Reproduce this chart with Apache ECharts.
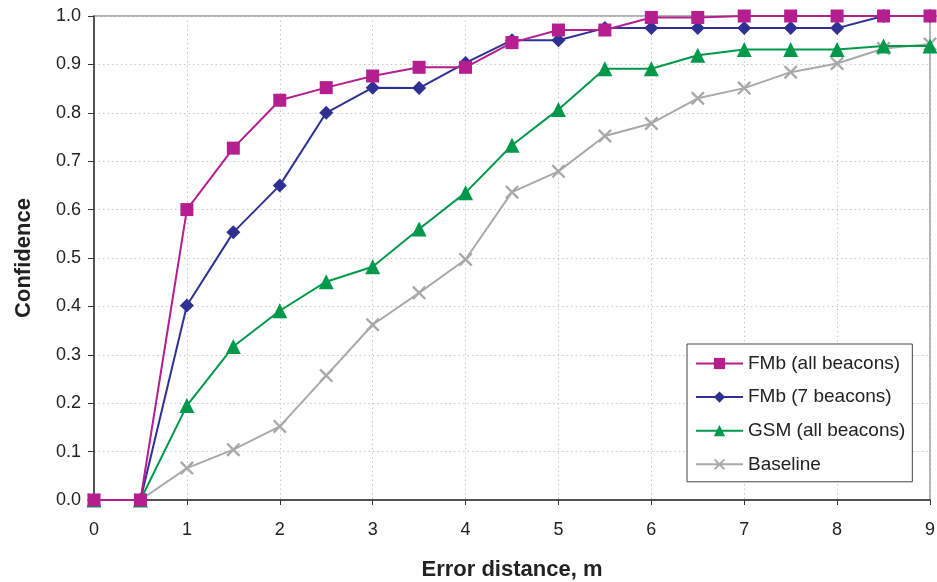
<!DOCTYPE html>
<html><head><meta charset="utf-8">
<script src="https://cdn.jsdelivr.net/npm/echarts@6/dist/echarts.min.js"></script>
<style>html,body{margin:0;padding:0;background:#fff}#c{width:937px;height:582px}</style>
</head><body><div id="c"></div>
<script>
const xs = [0,0.5,1,1.5,2,2.5,3,3.5,4,4.5,5,5.5,6,6.5,7,7.5,8,8.5,9];
const fmbAll = [0,0,0.600,0.727,0.826,0.852,0.876,0.894,0.894,0.945,0.971,0.971,0.997,0.997,1.0,1.0,1.0,1.0,1.0];
const fmb7 = [0,0,0.402,0.553,0.650,0.800,0.852,0.851,0.903,0.950,0.950,0.975,0.975,0.975,0.975,0.975,0.975,1.0,1.0];
const gsm = [0,0,0.195,0.317,0.391,0.451,0.482,0.560,0.635,0.733,0.807,0.891,0.891,0.919,0.931,0.931,0.931,0.938,0.938];
const baseline = [0,0,0.066,0.104,0.152,0.257,0.362,0.428,0.497,0.636,0.679,0.752,0.778,0.830,0.851,0.884,0.902,0.933,0.942];
const seriesNames = ['FMb (all beacons)','FMb (7 beacons)','GSM (all beacons)','Baseline'];
const xTitle = 'Error distance, m';
const yTitle = 'Confidence';

const pair = arr => xs.map((x,i)=>[x,arr[i]]);
const crossPath = 'path://M0,1.2L1.2,0L10,8.8L8.8,10Z M8.8,0L10,1.2L1.2,10L0,8.8Z';
const font = '"Liberation Sans", Arial, sans-serif';

const chart = echarts.init(document.getElementById('c'));
chart.setOption({
  animation:false,
  textStyle:{fontFamily:font},
  grid:{left:94,right:7,top:16,bottom:82,show:true,borderColor:'#999',borderWidth:1.5,
        containLabel:false,outerBoundsMode:'none'},
  legend:{
    orient:'vertical', left:687, top:344,
    backgroundColor:'#fff', borderColor:'#444', borderWidth:1,
    padding:[10,7,8,8], itemWidth:47, itemHeight:14, itemGap:14.6,
    textStyle:{fontSize:19,color:'#222',fontFamily:font},
    data:seriesNames
  },
  xAxis:{
    type:'value', min:0, max:9, interval:1,
    name:xTitle, nameLocation:'middle', nameGap:59,
    nameTextStyle:{fontSize:22,fontWeight:'bold',color:'#222',fontFamily:font},
    axisLine:{lineStyle:{color:'#333',width:1.5}},
    axisTick:{show:true,length:5,inside:false,lineStyle:{color:'#333'}},
    axisLabel:{fontSize:18,color:'#222',margin:21},
    splitLine:{show:true,lineStyle:{color:'#c8c8c8',type:[1.5,3],width:1}}
  },
  yAxis:{
    type:'value', min:0, max:1, interval:0.1,
    name:yTitle, nameLocation:'middle', nameGap:59, nameRotate:90,
    nameTextStyle:{fontSize:22,fontWeight:'bold',color:'#222',fontFamily:font},
    axisLine:{show:true,lineStyle:{color:'#333',width:1.5}},
    axisTick:{show:true,length:6,inside:false,lineStyle:{color:'#333'}},
    axisLabel:{fontSize:18,color:'#222',margin:13,formatter:v=>v.toFixed(1)},
    splitLine:{show:true,lineStyle:{color:'#c8c8c8',type:[1.5,3],width:1}}
  },
  series:[
    {name:seriesNames[3],type:'line',data:pair(baseline),symbol:crossPath,symbolSize:14,
     lineStyle:{color:'#a9a9a9',width:2},itemStyle:{color:'#a9a9a9'},z:2},
    {name:seriesNames[2],type:'line',data:pair(gsm),symbol:'triangle',symbolSize:15,
     lineStyle:{color:'#00994c',width:2},itemStyle:{color:'#00994c'},z:3},
    {name:seriesNames[1],type:'line',data:pair(fmb7),symbol:'diamond',symbolSize:14,
     lineStyle:{color:'#2e3192',width:2},itemStyle:{color:'#2e3192'},z:4},
    {name:seriesNames[0],type:'line',data:pair(fmbAll),symbol:'rect',symbolSize:13,
     lineStyle:{color:'#b41e8e',width:2},itemStyle:{color:'#b41e8e'},z:5}
  ]
});
</script></body></html>
